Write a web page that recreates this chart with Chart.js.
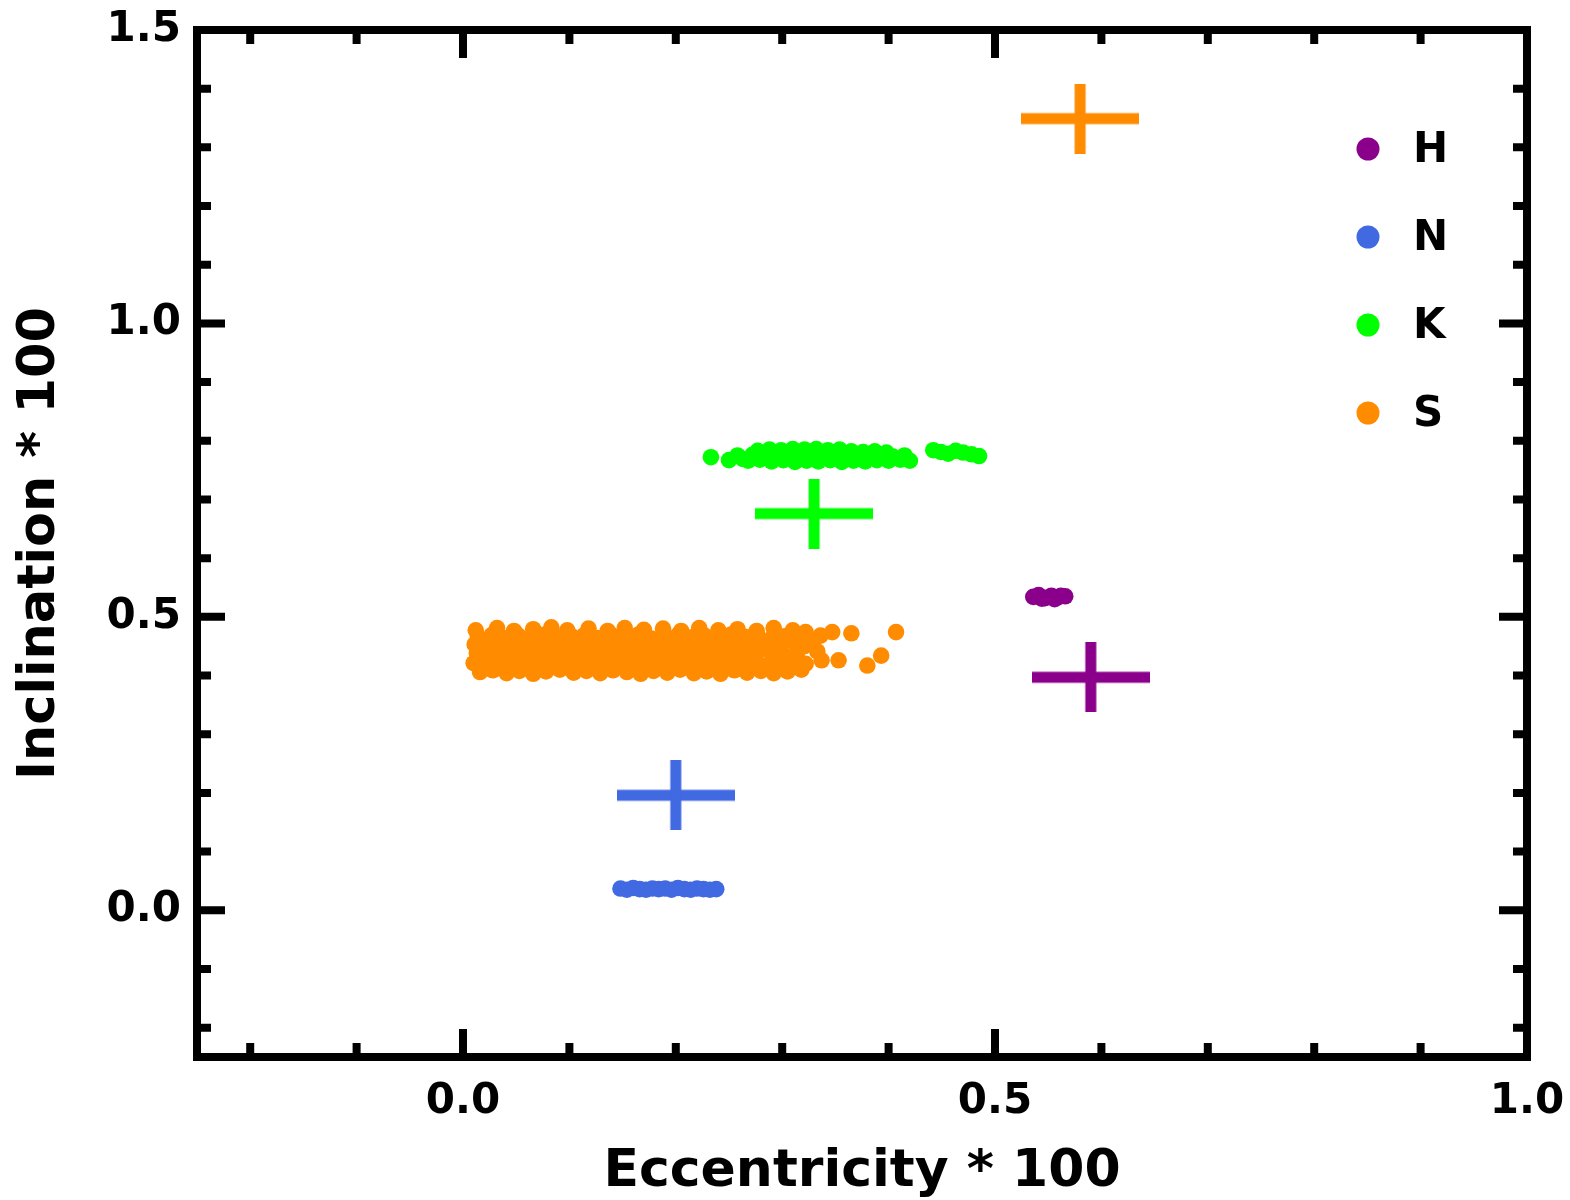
<!DOCTYPE html>
<html>
<head>
<meta charset="utf-8">
<script src="https://cdn.jsdelivr.net/npm/chart.js@4.4.1/dist/chart.umd.min.js"></script>
<style>
  body { margin: 0; background: #fff; }
</style>
</head>
<body>
<canvas id="orbitChart" width="1570" height="1200"></canvas>
<script>
// series labels and colours
const seriesLabels = ['H', 'N', 'K', 'S'];
const seriesColors = ['#8b008b', '#4169e1', '#00ff00', '#ff8c00'];

// samples, [eccentricity*100, inclination*100]
const hPoints = [[0.536,0.534],[0.541,0.537],[0.547,0.532],[0.553,0.536],[0.559,0.533],[0.566,0.535],[0.544,0.531],[0.556,0.530],[0.562,0.536]];

const nPoints = [[0.148,0.037],[0.154,0.035],[0.160,0.038],[0.166,0.036],[0.172,0.035],[0.178,0.037],[0.184,0.036],
    [0.190,0.037],[0.196,0.035],[0.202,0.038],[0.208,0.036],[0.214,0.035],[0.220,0.037],[0.226,0.036],[0.232,0.035],[0.238,0.036]];

const kPoints = [[0.233,0.772],[0.250,0.767],[0.258,0.775],[0.263,0.769],
    [0.268,0.766],[0.279,0.768],[0.290,0.765],[0.301,0.767],[0.312,0.764],[0.323,0.766],[0.334,0.765],[0.345,0.767],
    [0.356,0.764],[0.367,0.766],[0.378,0.765],[0.389,0.767],[0.400,0.766],[0.411,0.768],[0.420,0.766],
    [0.272,0.776],[0.283,0.778],[0.294,0.775],[0.305,0.777],[0.316,0.776],[0.327,0.778],[0.338,0.775],[0.349,0.777],
    [0.360,0.774],[0.371,0.776],[0.382,0.774],[0.393,0.776],[0.404,0.773],[0.415,0.775],
    [0.277,0.783],[0.288,0.785],[0.299,0.784],[0.310,0.786],[0.321,0.785],[0.332,0.786],[0.343,0.784],[0.354,0.785],
    [0.365,0.782],[0.376,0.781],[0.387,0.782],[0.398,0.780],
    [0.442,0.784],[0.449,0.781],[0.456,0.778],[0.463,0.783],[0.470,0.780],[0.478,0.777],[0.485,0.774]];

const sPoints = [
    [0.016,0.406],[0.028,0.409],[0.041,0.404],[0.053,0.408],[0.066,0.403],[0.078,0.407],[0.091,0.410],[0.104,0.405],
    [0.116,0.408],[0.129,0.404],[0.141,0.409],[0.154,0.406],[0.167,0.403],[0.179,0.408],[0.192,0.405],[0.204,0.410],
    [0.217,0.404],[0.229,0.407],[0.242,0.403],[0.255,0.409],[0.267,0.405],[0.280,0.408],[0.292,0.404],[0.305,0.407],[0.318,0.410],
    [0.010,0.421],[0.022,0.424],[0.035,0.419],[0.047,0.423],[0.060,0.420],[0.072,0.425],[0.085,0.418],[0.097,0.422],
    [0.110,0.426],[0.122,0.419],[0.135,0.423],[0.148,0.421],[0.160,0.425],[0.173,0.418],[0.185,0.422],[0.198,0.424],
    [0.210,0.420],[0.223,0.426],[0.236,0.419],[0.248,0.423],[0.261,0.421],[0.273,0.425],[0.286,0.418],[0.298,0.422],
    [0.311,0.424],[0.322,0.420],
    [0.013,0.438],[0.026,0.435],[0.038,0.440],[0.051,0.436],[0.063,0.439],[0.076,0.434],[0.088,0.438],[0.101,0.441],
    [0.113,0.435],[0.126,0.437],[0.139,0.440],[0.151,0.434],[0.164,0.438],[0.176,0.436],[0.189,0.441],[0.201,0.435],
    [0.214,0.439],[0.226,0.437],[0.239,0.434],[0.251,0.440],[0.264,0.436],[0.276,0.438],[0.289,0.441],[0.301,0.435],[0.314,0.439],
    [0.011,0.453],[0.024,0.450],[0.036,0.455],[0.049,0.451],[0.061,0.454],[0.074,0.449],[0.086,0.452],[0.099,0.456],
    [0.111,0.450],[0.124,0.453],[0.137,0.455],[0.149,0.449],[0.162,0.452],[0.174,0.454],[0.187,0.450],[0.199,0.456],
    [0.212,0.451],[0.224,0.453],[0.237,0.449],[0.249,0.455],[0.262,0.451],[0.274,0.454],[0.287,0.450],[0.299,0.452],
    [0.312,0.455],[0.321,0.450],
    [0.014,0.466],[0.027,0.469],[0.039,0.464],[0.052,0.468],[0.064,0.465],[0.077,0.470],[0.089,0.463],[0.102,0.467],
    [0.114,0.469],[0.127,0.464],[0.140,0.468],[0.152,0.466],[0.165,0.470],[0.177,0.463],[0.190,0.467],[0.202,0.469],
    [0.215,0.465],[0.227,0.468],[0.240,0.464],[0.252,0.470],[0.265,0.466],[0.277,0.468],[0.290,0.463],[0.302,0.467],[0.315,0.469],
    [0.012,0.477],[0.032,0.481],[0.048,0.476],[0.066,0.479],[0.083,0.482],[0.098,0.477],[0.118,0.480],[0.136,0.476],
    [0.152,0.481],[0.170,0.478],[0.188,0.480],[0.205,0.476],[0.222,0.481],[0.240,0.477],[0.258,0.479],[0.276,0.476],
    [0.292,0.481],[0.310,0.477],[0.322,0.474],
    [0.328,0.455],[0.333,0.441],[0.336,0.468],[0.347,0.474],[0.365,0.472],[0.337,0.426],[0.353,0.426],
    [0.380,0.417],[0.393,0.434],[0.407,0.474]];

// mean of each group (the big crosses)
const meanEcc = [0.590, 0.200, 0.330, 0.580];
const meanInc = [0.397, 0.196, 0.676, 1.349];

// axes
const xRange = [-0.25, 1.0];
const yRange = [-0.25, 1.5];
const xTickVals = [-0.2, -0.1, 0.0, 0.1, 0.2, 0.3, 0.4, 0.5, 0.6, 0.7, 0.8, 0.9, 1.0];
const yTickVals = [-0.2, -0.1, 0.0, 0.1, 0.2, 0.3, 0.4, 0.5, 0.6, 0.7, 0.8, 0.9, 1.0, 1.1, 1.2, 1.3, 1.4, 1.5];
const majorVals = [0.0, 0.5, 1.0, 1.5];

const FONT = 'DejaVu Sans';
const isMajor = v => majorVals.some(m => Math.abs(m - v) < 1e-9);

function crossImage(color) {
    const c = document.createElement('canvas');
    c.width = 118;
    c.height = 70;
    const g = c.getContext('2d');
    g.fillStyle = color;
    g.fillRect(0, 29.5, 118, 11);
    g.fillRect(53.5, 0, 11, 70);
    return c;
}

const groups = [hPoints, nPoints, kPoints, sPoints];
const datasets = groups.map((pts, i) => ({
    label: seriesLabels[i],
    data: pts.map(p => ({ x: p[0], y: p[1] })),
    backgroundColor: seriesColors[i],
    borderWidth: 0,
    pointRadius: 8.3
}));
seriesLabels.forEach((lab, i) => {
    datasets.push({
        label: lab + ' mean',
        data: [{ x: meanEcc[i], y: meanInc[i] }],
        pointStyle: crossImage(seriesColors[i]),
        pointRadius: 10,
        borderWidth: 0
    });
});

// frame, inward ticks on all sides, legend
const framePlugin = {
    id: 'frame',
    afterDraw(chart) {
        const ctx = chart.ctx;
        const a = chart.chartArea;
        const xs = chart.scales.x, ys = chart.scales.y;
        ctx.save();
        ctx.strokeStyle = '#000';
        ctx.lineWidth = 8;
        ctx.lineCap = 'butt';
        ctx.beginPath();
        xTickVals.forEach(v => {
            const px = xs.getPixelForValue(v);
            const len = isMajor(v) ? 28 : 14;
            ctx.moveTo(px, a.bottom); ctx.lineTo(px, a.bottom - len);
            ctx.moveTo(px, a.top); ctx.lineTo(px, a.top + len);
        });
        yTickVals.forEach(v => {
            const py = ys.getPixelForValue(v);
            const len = isMajor(v) ? 28 : 14;
            ctx.moveTo(a.left, py); ctx.lineTo(a.left + len, py);
            ctx.moveTo(a.right, py); ctx.lineTo(a.right - len, py);
        });
        ctx.stroke();
        ctx.lineJoin = 'miter';
        ctx.strokeRect(a.left, a.top, a.right - a.left, a.bottom - a.top);

        // legend
        ctx.font = 'bold 42px "' + FONT + '"';
        ctx.textBaseline = 'middle';
        ctx.textAlign = 'left';
        seriesLabels.forEach((lab, i) => {
            const cx = a.right - 159, cy = a.top + 119 + i * 88;
            ctx.fillStyle = seriesColors[i];
            ctx.beginPath();
            ctx.arc(cx, cy, 11.5, 0, Math.PI * 2);
            ctx.fill();
            ctx.fillStyle = '#000';
            ctx.fillText(lab, cx + 45, cy + 2);
        });
        ctx.restore();
    }
};

Chart.defaults.font.family = FONT;
Chart.defaults.color = '#000';

new Chart(document.getElementById('orbitChart'), {
    type: 'scatter',
    data: { datasets: datasets },
    options: {
        responsive: false,
        animation: false,
        layout: { padding: { top: 30, right: 43, left: 0, bottom: 0 } },
        plugins: {
            legend: { display: false },
            tooltip: { enabled: false }
        },
        scales: {
            x: {
                type: 'linear',
                min: xRange[0],
                max: xRange[1],
                grid: { display: false },
                border: { display: false },
                afterBuildTicks: s => { s.ticks = xTickVals.map(v => ({ value: v })); },
                afterFit: s => { s.height = 143; s.paddingLeft = 0; s.paddingRight = 0; },
                ticks: {
                    autoSkip: false,
                    maxRotation: 0,
                    padding: 12,
                    font: { size: 42, weight: 'bold' },
                    callback: v => isMajor(v) ? v.toFixed(1) : ''
                },
                title: {
                    display: true,
                    text: 'Eccentricity * 100',
                    font: { size: 52, weight: 'bold' },
                    padding: { top: 0, bottom: -4 }
                }
            },
            y: {
                type: 'linear',
                min: yRange[0],
                max: yRange[1],
                grid: { display: false },
                border: { display: false },
                afterBuildTicks: s => { s.ticks = yTickVals.map(v => ({ value: v })); },
                afterFit: s => { s.width = 197; s.paddingTop = 0; s.paddingBottom = 0; },
                ticks: {
                    autoSkip: false,
                    padding: 8,
                    font: { size: 42, weight: 'bold' },
                    callback: v => isMajor(v) ? v.toFixed(1) : ''
                },
                title: {
                    display: true,
                    text: 'Inclination * 100',
                    font: { size: 51, weight: 'bold' },
                    padding: { top: 10, bottom: 0 }
                }
            }
        }
    },
    plugins: [framePlugin]
});
</script>
</body>
</html>
